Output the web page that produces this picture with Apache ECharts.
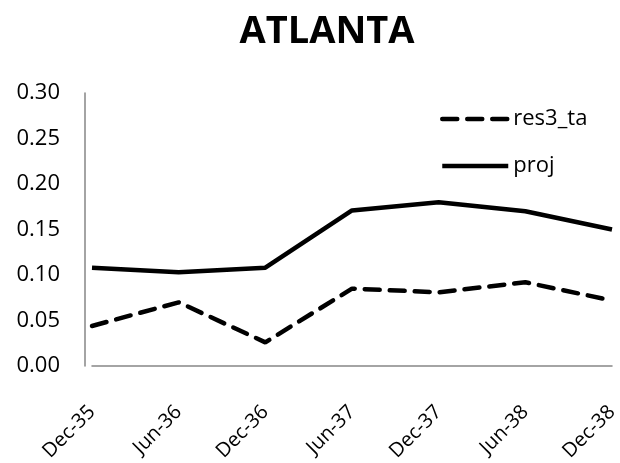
<!DOCTYPE html>
<html><head><meta charset="utf-8">
<script src="https://cdn.jsdelivr.net/npm/echarts@6/dist/echarts.min.js"></script>
<style>html,body{margin:0;padding:0;background:#fff}#c{width:620px;height:463px}</style>
</head><body><div id="c"></div>
<script>
const categories = ["Dec-35","Jun-36","Dec-36","Jun-37","Dec-37","Jun-38","Dec-38"];
const res3_ta = [0.044, 0.070, 0.026, 0.085, 0.081, 0.092, 0.072];
const proj = [0.108, 0.103, 0.108, 0.171, 0.180, 0.170, 0.150];
const yTicks = [0, 0.05, 0.10, 0.15, 0.20, 0.25, 0.30];
const font = "'Open Sans', 'Noto Sans', sans-serif";
const chart = echarts.init(document.getElementById('c'), null, {renderer:'canvas'});
chart.setOption({
  animation:false,
  title:{text:'ATLANTA', left:322, textAlign:'center', top:8, textStyle:{fontFamily:font, fontWeight:'bold', fontSize:38, color:'#000'}},
  legend:{orient:'vertical', left:435, top:103, itemWidth:66, itemHeight:22, itemGap:25,
    itemStyle:{opacity:0},
    lineStyle:{width:4.5, color:'#000', inactiveWidth:4.5},
    textStyle:{fontFamily:font, fontSize:22, lineHeight:22, color:'#000'},
    data:['res3_ta','proj']},
  grid:{left:92, right:8, top:93, bottom:97, outerBoundsMode:'none', containLabel:false},
  xAxis:{type:'category', data:categories, boundaryGap:false,
    axisLine:{lineStyle:{color:'#868686', width:1.5}}, axisTick:{show:false},
    axisLabel:{rotate:45, fontFamily:font, fontSize:20, color:'#000', margin:43}},
  yAxis:{type:'value', min:yTicks[0], max:yTicks[yTicks.length-1], interval:0.05, offset:7,
    splitLine:{show:false}, axisLine:{show:true, lineStyle:{color:'#868686', width:1.5}}, axisTick:{show:false},
    axisLabel:{fontFamily:font, fontSize:22, color:'#000', margin:25, formatter:v=>v.toFixed(2)}},
  series:[
    {name:'res3_ta', type:'line', data:res3_ta, symbol:'none', color:'#000',
      lineStyle:{color:'#000', width:4.5, type:[15,10], cap:'round'}},
    {name:'proj', type:'line', data:proj, symbol:'none', color:'#000',
      lineStyle:{color:'#000', width:4.5}}
  ]
});
</script></body></html>
